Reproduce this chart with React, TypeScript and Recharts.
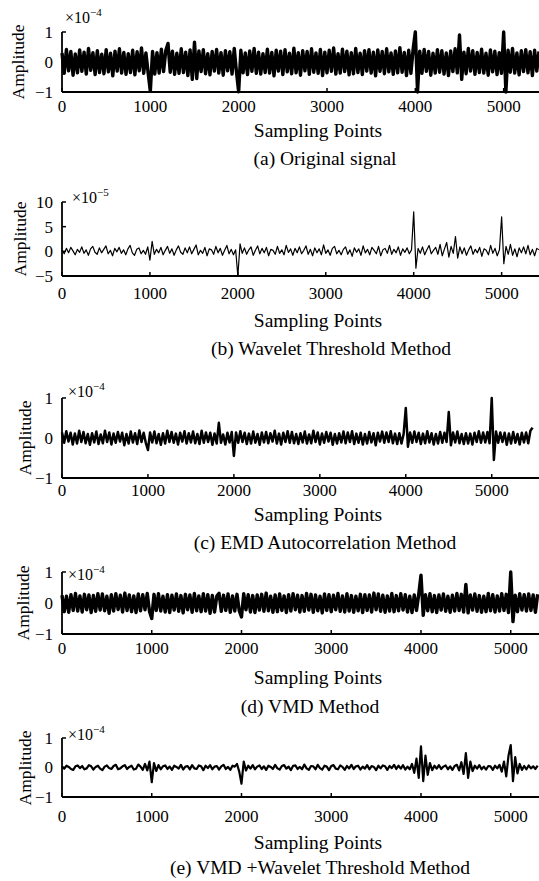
import React from "react";
import { LineChart, Line, XAxis, YAxis } from "recharts";

// signal samples, one value every 25 sampling points
// (a) original signal, units of 0.01 x 1e-4
const sigA = [
  30, -38, 42, -29, 35, -44, 27, -36, 40, -31,
  33, -40, 45, -28, 31, -42, 38, -35, 26, -39,
  41, -33, 29, -46, 36, -30, 44, -37, 32, -41,
  28, -35, 39, -43, 34, -29, 47, -38, 30, -36,
  -98, 35, -40, 31, -37, 43, -32, 38, 62, -34,
  36, -41, 29, -38, 44, -35, 33, -45, 40, -58,
  66, -55, 37, -32, 41, -39, 28, -43, 35, -30,
  42, -37, 31, -44, 38, -29, 34, -40, 45, -33,
  -99, 39, -36, 30, -42, 37, -31, 45, -38, 33,
  -40, 28, -35, 43, -37, 32, -46, 39, -30, 36,
  -42, 41, -33, 29, -39, 46, -36, 31, -44, 38,
  -29, 35, -41, 44, -34, 30, -38, 42, -45, 33,
  -36, 39, -31, 47, -40, 28, -37, 43, -32, 36,
  -43, 31, -39, 45, -35, 29, -42, 38, -30, 41,
  -37, 33, -46, 40, -31, 35, -39, 44, -33, 30,
  -41, 37, -36, 48, -34, 32, -45, 39, -38, 43,
  100, -100, 36, -38, 42, -31, 35, -44, 29, -37,
  41, -34, 38, -40, 30, -45, 37, -32, 44, -36,
  90, -58, 33, -39, 45, -30, 38, -41, 32, -35,
  43, -37, 29, -44, 40, -33, 36, -42, 31, -38,
  100, -100, 39, -34, 45, -37, 30, -43, 38, -32,
  41, -36, 34, -45, 39, -30, 35,
];

// (b) wavelet threshold, units of 0.1 x 1e-5
const sigB = [
  2, -5, 6, -3, 8, 1, -7, 4, -2, 9,
  -4, 3, -8, 5, 10, -2, -6, 7, -3, 4,
  11, -5, 2, -9, 6, -1, 8, -4, 3, -7,
  5, 12, -3, -8, 4, 7, -5, 2, -6, 9,
  -18, 20, -6, 4, -3, 8, -7, 2, 10, -4,
  5, -8, 3, 11, -2, -6, 7, -3, 9, -5,
  4, 13, -7, 2, -4, 8, -9, 5, 3, -6,
  10, -3, 6, -8, 2, 12, -5, 4, -7, 3,
  -50, 15, -4, 7, -6, 3, 9, -8, 2, 11,
  -5, 6, -3, 8, -9, 4, 2, -6, 10, -4,
  3, -7, 12, -2, 5, -8, 6, -3, 9, -5,
  2, 11, -6, 4, -9, 7, -3, 5, -7, 13,
  -4, 3, -8, 6, 10, -5, 2, -7, 4, 9,
  -6, 3, -10, 7, -2, 5, -8, 11, -3, 4,
  -7, 8, 2, -5, 10, -9, 3, 6, -4, 12,
  -6, 4, -3, 9, -8, 5, -2, 7, -5, 3,
  80, -34, 6, -4, 9, -7, 3, 12, -5, 2,
  8, -6, 14, -9, 5, 18, -12, 10, -4, 30,
  -14, 9, -5, 7, -8, 3, 11, -6, 4, -3,
  8, -10, 5, 2, -7, 12, -4, 6, -9, 3,
  70, -25, 10, -6, 14, -8, 5, -11, 7, -3,
  9, -5, 12, -7, 4, -9, 6, 3,
];

// (c) EMD autocorrelation, units of 0.01 x 1e-4
const sigC = [
  14, -12, 17, -9, 13, -16, 11, -14, 18, -10,
  15, -13, 10, -17, 12, -11, 16, -15, 9, -13,
  18, -10, 14, -16, 11, -12, 15, -9, 13, -18,
  10, -14, 16, -11, 12, -15, 19, -10, 13, -12,
  -30, 14, -11, 16, -13, 10, -17, 12, -14, 18,
  -10, 15, -12, 11, -16, 13, -9, 17, -14, 12,
  -11, 16, -13, 10, -15, 18, -12, 14, -10, 13,
  -17, 11, -14, 38, -12, 9, -16, 13, -11, 15,
  -45, 14, -12, 17, -10, 13, -15, 11, -14, 16,
  -12, 10, -17, 14, -11, 15, -13, 12, -9, 18,
  -14, 11, -16, 13, -10, 17, -12, 15, -13, 10,
  -15, 12, -11, 16, -14, 9, -13, 18, -10, 14,
  -16, 11, -12, 15, -9, 13, -17, 10, -14, 12,
  -11, 16, -13, 14, -10, 17, -15, 11, -12, 13,
  -16, 10, -14, 15, -11, 12, -18, 13, -9, 16,
  -12, 14, -10, 17, -13, 11, -15, 12, -14, 10,
  75, -22, 14, -12, 16, -10, 13, -15, 11, -13,
  17, -11, 12, -16, 10, -14, 15, -12, 13, -10,
  65, -18, 14, -11, 16, -13, 10, -15, 12, -14,
  11, -16, 13, -10, 17, -12, 14, -11, 15, -13,
  100, -55, 16, -12, 14, -10, 13, -17, 11, -14,
  15, -12, 10, -16, 13, -11, 14, -13, 18, 26,
];

// (d) VMD, units of 0.01 x 1e-4
const sigD = [
  25, -28, 22, -30, 27, -24, 31, -26, 23, -29,
  28, -22, 26, -31, 24, -27, 30, -23, 29, -25,
  22, -33, 27, -26, 30, -21, 25, -29, 32, -24,
  26, -28, 23, -31, 29, -25, 27, -22, 31, -27,
  -50, 28, -24, 30, -26, 22, -29, 27, -31, 25,
  -23, 29, -27, 24, -32, 28, -22, 26, -30, 31,
  -25, 23, -28, 30, -26, 27, -33, 24, -29, 22,
  31, -27, 25, -24, 29, -30, 23, -26, 28, -25,
  -45, 30, -22, 27, -29, 24, -31, 26, -23, 28,
  -27, 32, -25, 22, -30, 26, -28, 29, -24, 23,
  -31, 27, -26, 30, -22, 25, -29, 24, -27, 31,
  -23, 28, -30, 26, -25, 22, -32, 29, -24, 27,
  -28, 25, -22, 31, -27, 23, -29, 30, -26, 24,
  -30, 22, -25, 28, -31, 27, -24, 26, -29, 32,
  -22, 29, -27, 25, -30, 23, -26, 31, -28, 24,
  -25, 30, -23, 27, -29, 22, -31, 26, -24, 28,
  90, -40, 27, -25, 30, -28, 24, -31, 26, -23,
  29, -27, 22, -30, 25, -26, 31, -24, 28, -29,
  60, -32, 26, -23, 29, -27, 24, -30, 22, -28,
  31, -25, 27, -29, 23, -26, 30, -24, 28, -31,
  100, -60, 25, -28, 30, -23, 27, -26, 29, -24,
  26, -30, 28,
];

// (e) VMD + wavelet threshold, units of 0.01 x 1e-4
const sigE = [
  3, -4, 6, 2, -5, -8, 4, 7, -2, 5,
  -6, -3, 8, 4, -7, 2, 6, -4, -9, 3,
  7, -2, -5, 5, 9, -6, -3, 4, 8, -5,
  2, 6, -7, -4, 10, 3, -8, 12, -10, 20,
  -50, 15, -12, 8, -6, 4, 7, -5, 3, -8,
  6, 2, -4, 9, -7, 3, 5, -6, 8, -3,
  -5, 7, 4, -9, 6, -2, 8, -6, 3, 5,
  -7, 4, 9, -5, 2, -8, 6, 3, 12, -14,
  -55, 20, -10, 6, -4, 8, -6, 3, 7, -5,
  4, -8, 6, 2, -5, 9, -3, -7, 5, 8,
  -4, 3, -9, 6, 7, -5, 2, -6, 10, -3,
  -8, 5, 4, -6, 9, -2, -7, 6, 3, -9,
  5, 8, -4, -6, 7, 2, -8, 5, -3, 9,
  -5, 4, 6, -7, 3, -4, 8, -6, 5, 2,
  -9, 6, -3, 7, 4, -8, 5, -2, 9, -5,
  6, -4, 8, -7, 3, -6, 12, -18, 30, -35,
  72, -46, 40, -25, 15, -9, 6, -4, 8, -5,
  3, 7, -6, 4, -8, 5, 9, -10, 18, -22,
  49, -35, 20, -12, 6, -4, 8, -6, 3, -7,
  5, 4, -8, 6, -3, 9, -14, 20, -30, 40,
  76, -46, 35, -20, 12, -8, 5, -6, 7, -3,
  4, -5, 6,
];

const STEP = 25;
const xTicks = [0, 1000, 2000, 3000, 4000, 5000];
const yTicks1 = [-1, 0, 1];
const yTicks10 = [-5, 0, 5, 10];

const FONT = "'Times New Roman', 'Liberation Serif', Times, serif";
const W = 539;
const LEFT = 62;

const fmt = (v: number) => (v < 0 ? "\u2212" + Math.abs(v) : String(v));

function YTick(props: any) {
  const { x, y, payload } = props;
  return (
    <g>
      <line x1={x} x2={x + 4} y1={y} y2={y} stroke="#000" strokeWidth={1.5} />
      <text x={x - 9} y={y} dy="0.35em" textAnchor="end" fontSize={17} style={{ fontFamily: FONT }} fill="#000">
        {fmt(payload.value)}
      </text>
    </g>
  );
}

function makeXTick(off: number) {
  return (props: any) => {
    const { x, y, payload } = props;
    return (
      <g>
        <line x1={x} x2={x} y1={y} y2={y - 4} stroke="#000" strokeWidth={1.5} />
        <text x={x} y={y + off} textAnchor="middle" fontSize={17} style={{ fontFamily: FONT }} fill="#000">
          {payload.value}
        </text>
      </g>
    );
  };
}

type Panel = {
  sig: number[];
  scale: number;
  yDomain: [number, number];
  yTicks: number[];
  xMax: number;
  top: number;
  bottom: number;
  tickOff: number;
  sw: number;
  exp: string;
  expX: number;
  expY: number;
  ampX: number;
  spY: number;
  capX: number;
  capY: number;
  caption: string;
};

const panels: Panel[] = [
  { sig: sigA, scale: 100, yDomain: [-1, 1], yTicks: yTicks1, xMax: 5400, top: 32, bottom: 92, tickOff: 20, sw: 3.4, exp: "\u22124", expX: 65, expY: 18, ampX: 19, spY: 131, capX: 325, capY: 159, caption: "(a) Original signal" },
  { sig: sigB, scale: 10, yDomain: [-5, 10], yTicks: yTicks10, xMax: 5425, top: 202, bottom: 276, tickOff: 23, sw: 1.2, exp: "\u22125", expX: 72, expY: 198, ampX: 21, spY: 321, capX: 331, capY: 349, caption: "(b) Wavelet Threshold Method" },
  { sig: sigC, scale: 100, yDomain: [-1, 1], yTicks: yTicks1, xMax: 5550, top: 398, bottom: 478, tickOff: 18, sw: 2.5, exp: "\u22124", expX: 68, expY: 392, ampX: 26, spY: 515, capX: 325, capY: 543, caption: "(c) EMD Autocorrelation Method" },
  { sig: sigD, scale: 100, yDomain: [-1, 1], yTicks: yTicks1, xMax: 5315, top: 572, bottom: 634, tickOff: 20, sw: 3.4, exp: "\u22124", expX: 68, expY: 575, ampX: 24, spY: 678, capX: 310, capY: 707, caption: "(d) VMD Method" },
  { sig: sigE, scale: 100, yDomain: [-1, 1], yTicks: yTicks1, xMax: 5315, top: 738, bottom: 797, tickOff: 25, sw: 2.2, exp: "\u22124", expX: 68, expY: 735, ampX: 26, spY: 843, capX: 320, capY: 868, caption: "(e) VMD +Wavelet Threshold Method" },
];

const abs = (left: number, top: number, extra: React.CSSProperties = {}): React.CSSProperties => ({
  position: "absolute",
  left,
  top,
  fontFamily: FONT,
  color: "#000",
  lineHeight: 1,
  whiteSpace: "nowrap",
  ...extra,
});

function SignalPanel({ p }: { p: Panel }) {
  const rows = p.sig.map((v, i) => ({ x: i * STEP, y: v / p.scale }));
  const h = p.bottom - p.top + 10 + 40;
  return (
    <>
      <div style={{ position: "absolute", left: 0, top: p.top - 10 }}>
        <LineChart width={W} height={h} data={rows} margin={{ top: 10, right: 0, bottom: 0, left: 0 }}>
          <XAxis
            dataKey="x"
            type="number"
            domain={[0, p.xMax]}
            ticks={xTicks}
            height={40}
            tickSize={0}
            tickMargin={0}
            tickLine={false}
            interval={0}
            axisLine={{ stroke: "#000", strokeWidth: 1.8 }}
            tick={makeXTick(p.tickOff)}
          />
          <YAxis
            type="number"
            domain={p.yDomain}
            ticks={p.yTicks}
            width={LEFT}
            tickSize={0}
            tickMargin={0}
            tickLine={false}
            interval={0}
            axisLine={{ stroke: "#000", strokeWidth: 1.8 }}
            tick={<YTick />}
          />
          <Line
            type="linear"
            dataKey="y"
            stroke="#000"
            strokeWidth={p.sw}
            strokeLinejoin="round"
            dot={false}
            isAnimationActive={false}
          />
        </LineChart>
      </div>
      <div style={abs(p.expX, p.expY - 8, { fontSize: 16 })}>
        ×10<span style={{ fontSize: 11, position: "relative", top: -7 }}>{p.exp}</span>
      </div>
      <div
        style={abs(p.ampX, (p.top + p.bottom) / 2, {
          fontSize: 17.5,
          transform: "translate(-50%, -50%) rotate(-90deg)",
        })}
      >
        Amplitude
      </div>
      <div style={abs(318, p.spY, { fontSize: 19.5, transform: "translate(-50%, -50%)" })}>Sampling Points</div>
      <div style={abs(p.capX, p.capY, { fontSize: 19.5, transform: "translate(-50%, -50%)" })}>{p.caption}</div>
    </>
  );
}

export default function App() {
  return (
    <div style={{ position: "absolute", left: 0, top: 0, width: W, height: 881, overflow: "hidden", background: "#fff" }}>
      {panels.map((p, i) => (
        <SignalPanel key={i} p={p} />
      ))}
    </div>
  );
}
